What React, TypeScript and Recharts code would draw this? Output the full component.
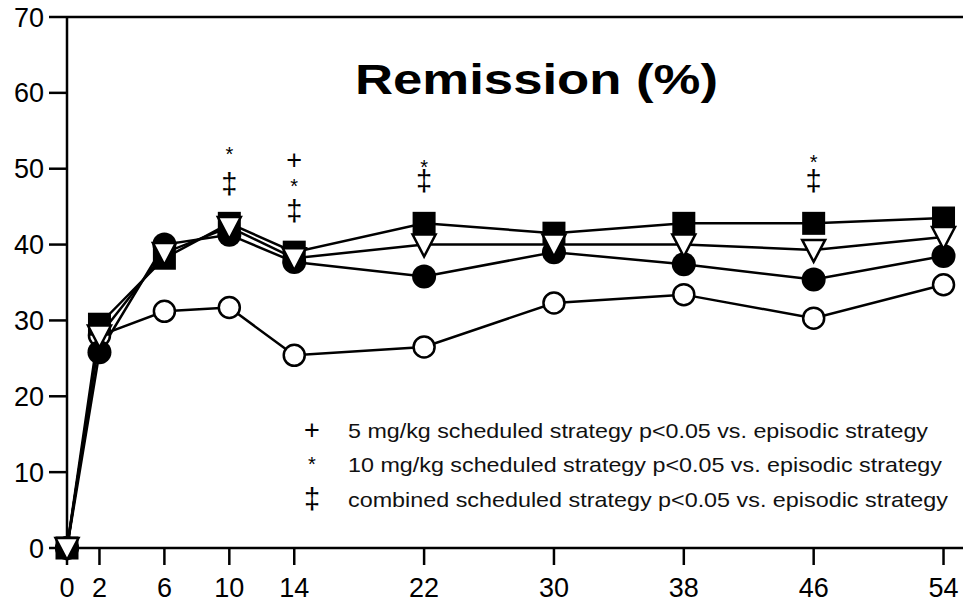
import { ComposedChart, Line, XAxis, YAxis, ReferenceLine, ReferenceDot, Customized } from 'recharts';

const weeks = [0, 2, 6, 10, 14, 22, 30, 38, 46, 54];
const filledSquare = [0, 29.5, 38.2, 42.8, 39, 42.8, 41.5, 42.8, 42.8, 43.5];
const openTriangle = [0, 28, 38.9, 42.3, 38.2, 40, 40, 40, 39.3, 41];
const filledCircle = [0, 25.8, 40, 41.3, 37.7, 35.8, 39, 37.4, 35.4, 38.5];
const openCircle = [0, 28, 31.2, 31.7, 25.4, 26.5, 32.3, 33.4, 30.3, 34.7];

const xTicks = [0, 2, 6, 10, 14, 22, 30, 38, 46, 54];
const yTicks = [0, 10, 20, 30, 40, 50, 60, 70];

// significance marks stacked above the points
const markWeeks = [10, 14, 22, 46];
const markSymbols = [['*', '‡'], ['+', '*', '‡'], ['*', '‡'], ['*', '‡']];
const markLevels = [[52.5, 47.9], [51.1, 48.2, 44.3], [50.7, 48.2], [51.4, 48.2]];

const legendSymbols = ['+', '*', '‡'];
const legendLines = [
  '5 mg/kg scheduled strategy p<0.05 vs. episodic strategy',
  '10 mg/kg scheduled strategy p<0.05 vs. episodic strategy',
  'combined scheduled strategy p<0.05 vs. episodic strategy',
];

const data = weeks.map((week, i) => ({
  week,
  square: filledSquare[i],
  triangle: openTriangle[i],
  filled: filledCircle[i],
  open: openCircle[i],
}));

const FONT = '"Liberation Sans", Arial, sans-serif';
const PLOT_H = 603 - 17 - 55;
const PX_PER_UNIT = PLOT_H / 70;

const symSize = (s: string) => (s === '*' ? 20 : s === '‡' ? 29 : 27);
const symDy = (s: string) => (s === '*' ? 11 : s === '+' ? 9 : 9);

const SymbolText = ({ x, y, s }: { x: number; y: number; s: string }) => (
  <text x={x} y={y + symDy(s)} textAnchor="middle" fontFamily={FONT} fontSize={symSize(s)} fill="#000">
    {s}
  </text>
);

const squareDot = (p: any) => (
  <rect key={`sq-${p.index}`} x={p.cx - 11.5} y={p.cy - 11.5} width={23} height={23} fill="#000" />
);
const triangleDot = (p: any) => (
  <polygon
    key={`tr-${p.index}`}
    points={`${p.cx - 11.5},${p.cy - 10} ${p.cx + 11.5},${p.cy - 10} ${p.cx},${p.cy + 12}`}
    fill="#fff"
    stroke="#000"
    strokeWidth={2.5}
  />
);
const filledDot = (p: any) => <circle key={`fc-${p.index}`} cx={p.cx} cy={p.cy} r={12} fill="#000" />;
const openDot = (p: any) => (
  <circle key={`oc-${p.index}`} cx={p.cx} cy={p.cy} r={10.5} fill="#fff" stroke="#000" strokeWidth={2.5} />
);

const Overlay = () => (
  <g>
    <text x={355} y={94} fontFamily={FONT} fontWeight="bold" fontSize={43} textLength={363} lengthAdjust="spacingAndGlyphs" fill="#000">
      Remission (%)
    </text>
    {legendLines.map((line, i) => (
      <g key={line}>
        <SymbolText x={312} y={[430, 460, 500][i]} s={legendSymbols[i]} />
        <text
          x={348}
          y={[438, 472, 507][i]}
          fontFamily={FONT}
          fontSize={21}
          textLength={[580, 594, 600][i]}
          lengthAdjust="spacingAndGlyphs"
          fill="#111"
        >
          {line}
        </text>
      </g>
    ))}
  </g>
);

export default function App() {
  const tickStyle = { fontFamily: FONT, fontSize: 27, fill: '#000' };
  return (
    <div style={{ position: 'absolute', left: 0, top: 0, width: 963, height: 603, background: '#fff' }}>
      <ComposedChart width={963} height={603} data={data} margin={{ top: 17, right: 0, bottom: 0, left: 0 }}>
        <XAxis
          dataKey="week"
          type="number"
          domain={[0, 55.2]}
          ticks={xTicks}
          interval={0}
          height={55}
          tickSize={17}
          tickMargin={13}
          tick={tickStyle}
          stroke="#000"
          strokeWidth={2.5}
          tickLine={{ stroke: '#000', strokeWidth: 2.5 }}
        />
        <YAxis
          type="number"
          domain={[0, 70]}
          ticks={yTicks}
          interval={0}
          width={67}
          tickSize={18}
          tickMargin={5}
          tick={tickStyle}
          stroke="#000"
          strokeWidth={2.5}
          tickLine={{ stroke: '#000', strokeWidth: 2.5 }}
        />
        <ReferenceLine y={70} stroke="#000" strokeWidth={2.5} />
        <Line dataKey="open" stroke="#000" strokeWidth={2.5} dot={openDot} isAnimationActive={false} />
        <Line dataKey="filled" stroke="#000" strokeWidth={2.5} dot={filledDot} isAnimationActive={false} />
        <Line dataKey="square" stroke="#000" strokeWidth={2.5} dot={squareDot} isAnimationActive={false} />
        <Line dataKey="triangle" stroke="#000" strokeWidth={2.5} dot={triangleDot} isAnimationActive={false} />
        {markWeeks.map((w, i) => (
          <ReferenceDot
            key={`mk-${w}`}
            x={w}
            y={markLevels[i][0]}
            r={0}
            shape={(p: any) => (
              <text textAnchor="middle" fontFamily={FONT} fill="#000">
                {markSymbols[i].map((s, j) => (
                  <tspan
                    key={j}
                    x={p.cx}
                    y={p.cy + (markLevels[i][0] - markLevels[i][j]) * PX_PER_UNIT + symDy(s)}
                    fontSize={symSize(s)}
                  >
                    {s}
                  </tspan>
                ))}
              </text>
            )}
          />
        ))}
        <Customized component={Overlay} />
      </ComposedChart>
    </div>
  );
}
